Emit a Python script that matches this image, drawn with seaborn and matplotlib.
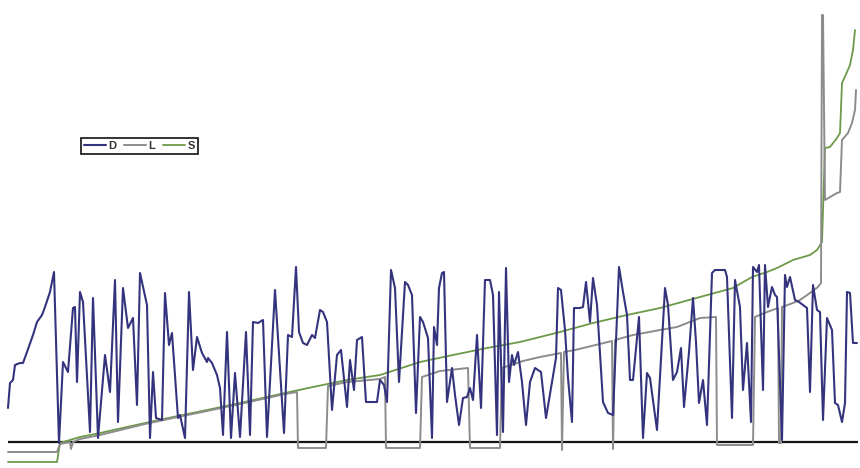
import matplotlib
matplotlib.use("Agg")
import matplotlib.pyplot as plt
import seaborn as sns
import pandas as pd

# D: daily level (day, value)
d_day = [0, 2, 5, 7, 12, 15, 19, 25, 29, 34, 37, 42, 46, 51, 55, 60, 65, 67, 69, 72, 75, 82, 85, 90,
         97, 102, 107, 110, 115, 120, 125, 129, 132, 139, 142, 145, 148, 154, 157, 161, 164, 170, 172,
         177, 181, 185, 189, 194, 199, 200, 204, 209, 212, 215, 219, 223, 227, 232, 238, 242, 245, 250,
         255, 259, 267, 276, 280, 284, 288, 291, 295, 299, 304, 307, 312, 315, 319, 324, 329, 333, 339,
         342, 346, 349, 354, 358, 364, 369, 372, 376, 379, 383, 387, 391, 397, 400, 404, 408, 412, 415,
         420, 424, 426, 429, 431, 434, 436, 439, 444, 447, 451, 455, 459, 462, 465, 469, 473, 477, 482,
         485, 489, 491, 495, 498, 501, 504, 506, 510, 514, 518, 522, 527, 533, 538, 543, 548, 550, 553,
         557, 560, 564, 566, 572, 575, 578, 582, 585, 589, 595, 600, 605, 611, 615, 619, 622, 625, 631,
         635, 639, 642, 649, 657, 660, 665, 669, 673, 676, 681, 685, 688, 691, 695, 699, 704, 707, 717,
         719, 724, 727, 732, 735, 739, 743, 745, 749, 751, 755, 757, 760, 764, 767, 769, 774, 777, 779,
         782, 787, 791, 795, 799, 802, 805, 809, 812, 815, 819, 824, 827, 830, 834, 837, 839, 842, 845,
         849]
d_val = [34, 59, 62, 77, 79, 79, 90, 107, 120, 127, 135, 150, 170, -1, 80, 70, 134, 135, 60, 150, 140,
         10, 144, 4, 87, 50, 162, 20, 154, 114, 124, 37, 169, 137, 4, 70, 24, 22, 149, 97, 109, 24, 27,
         4, 150, 72, 105, 89, 80, 84, 79, 67, 54, 7, 110, 4, 69, 5, 110, 7, 120, 119, 122, 5, 152, 9,
         107, 105, 175, 110, 99, 97, 107, 104, 132, 130, 120, 32, 87, 92, 35, 82, 52, 102, 105, 40, 40,
         40, 62, 57, 40, 172, 154, 60, 160, 157, 147, 29, 125, 120, 104, 4, 115, 97, 154, 169, 170, 40,
         74, 47, 17, 44, 45, 54, 42, 107, 34, 162, 162, 147, 7, 150, 10, 174, 60, 87, 77, 90, 60, 17,
         60, 74, 70, 24, 54, 84, 154, 152, 112, 64, 20, 134, 134, 135, 160, 120, 164, 137, 40, 29, 27,
         175, 150, 127, 62, 62, 125, 4, 69, 64, 12, 154, 137, 62, 70, 94, 35, 90, 144, 100, 39, 62, 17,
         169, 172, 172, 165, 24, 162, 135, 52, 99, 20, 175, 170, 177, 52, 177, 135, 155, 147, 145, 2,
         167, 155, 165, 142, 140, 137, 134, 50, 157, 132, 130, 22, 124, 112, 39, 37, 20, 39, 150, 149,
         99, 99]

# L: level after losses
l_day = [0, 49, 52, 57, 62, 63, 65, 72, 92, 137, 165, 199, 232, 277, 289, 290, 318, 320, 339, 372,
         377, 378, 412, 414, 432, 460, 462, 492, 494, 515, 532, 553, 554, 556, 567, 604, 605, 607, 625,
         652, 669, 692, 708, 709, 745, 747, 759, 770, 771, 773, 774, 785, 792, 802, 810, 813, 814, 815,
         817, 829, 832, 834, 840, 844, 847, 848]
l_val = [-10, -10, -2, -1, 0, -7, 0, 3, 7, 18, 24, 31, 38, 48, 50, -6, -6, 56, 60, 63, 65, -6, -6, 65,
         71, 74, -6, -6, 74, 81, 85, 89, -8, 90, 92, 101, -7, 102, 107, 112, 115, 124, 125, -3, -3, 125,
         130, 134, -1, -1, 135, 139, 142, 149, 155, 159, 427, 427, 242, 249, 250, 302, 309, 319, 332,
         352]

# S: cumulative level
s_day = [0, 49, 52, 55, 62, 72, 92, 137, 165, 199, 232, 277, 305, 339, 372, 412, 445, 479, 512, 552,
         585, 619, 652, 692, 725, 744, 759, 769, 779, 785, 802, 809, 814, 817, 822, 829, 832, 834, 839,
         842, 845, 847]
s_val = [-20, -20, -1, 0, 2, 5, 9, 19, 25, 32, 39, 49, 55, 62, 67, 80, 87, 94, 100, 110, 119, 127,
         134, 145, 154, 165, 170, 174, 179, 182, 187, 192, 200, 294, 295, 304, 309, 359, 370, 377, 392,
         412]

sns.set_theme(style="white")
plt.rcParams["font.family"] = ["Liberation Sans", "DejaVu Sans"]

fig = plt.figure(figsize=(8.6, 4.68), dpi=100)
ax = fig.add_axes([0, 0, 1, 1])

d_df = pd.DataFrame({"day": d_day, "value": d_val})
l_df = pd.DataFrame({"day": l_day, "value": l_val})
s_df = pd.DataFrame({"day": s_day, "value": s_val})

ax.hlines(0, 0, 850, color="#151515", lw=1.6, zorder=1)

sns.lineplot(data=s_df, x="day", y="value", estimator=None, sort=False,
             color="#6c9a48", lw=1.3, label="S", ax=ax, zorder=2)
sns.lineplot(data=l_df, x="day", y="value", estimator=None, sort=False,
             color="#8c8c8c", lw=1.4, label="L", ax=ax, zorder=3)
sns.lineplot(data=d_df, x="day", y="value", estimator=None, sort=False,
             color="#34347e", lw=1.5, label="D", ax=ax, zorder=4)

ax.set_xlim(-8, 852)
ax.set_ylim(-26, 442)
ax.axis("off")

handles, labels = ax.get_legend_handles_labels()
order = [labels.index(k) for k in ["D", "L", "S"]]
leg = ax.legend([handles[i] for i in order], [labels[i] for i in order],
                ncol=3, loc="upper left", bbox_to_anchor=(0.094, 0.705),
                bbox_transform=fig.transFigure, borderaxespad=0,
                fontsize=8, handlelength=2.0, handletextpad=0.2,
                columnspacing=0.7, borderpad=0.25, frameon=True,
                fancybox=False, edgecolor="#111111", framealpha=1)
leg.get_frame().set_linewidth(1.2)
for t in leg.get_texts():
    t.set_fontweight("bold")
    t.set_color("#333333")

fig.savefig("out.png", dpi=100, facecolor="white")
